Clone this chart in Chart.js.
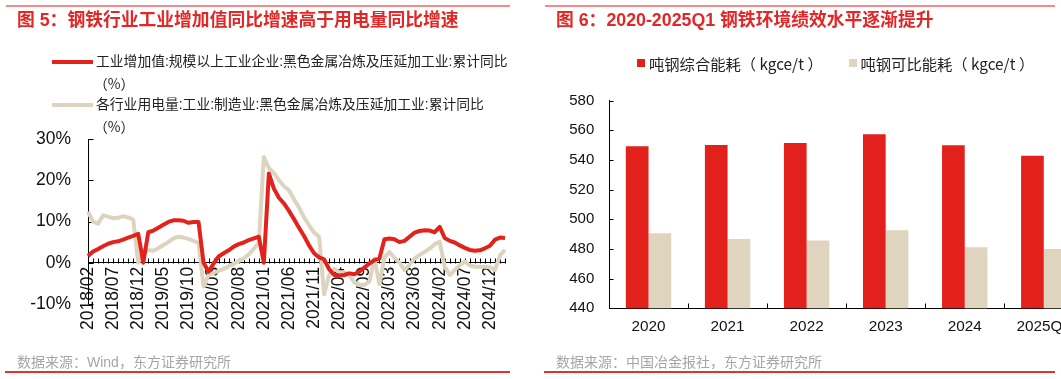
<!DOCTYPE html>
<html><head><meta charset="utf-8">
<script src="https://cdn.jsdelivr.net/npm/chart.js@4.4.1/dist/chart.umd.min.js"></script>
<style>
html,body{margin:0;padding:0;background:#fff;}
body{width:1061px;height:379px;overflow:hidden;position:relative;font-family:'Liberation Sans','Noto Sans CJK SC',sans-serif;}
.abs{position:absolute;white-space:pre;}
.cjk{font-family:'Noto Sans CJK SC','Liberation Sans',sans-serif;}
.title{font-size:17.8px;font-weight:bold;color:#E32626;line-height:20px;top:9.5px;}
.rule-top{position:absolute;height:2px;background:#F28C8C;top:5px;}
.rule-bot{position:absolute;height:1.5px;background:#E53030;top:371px;}
.src{font-size:14px;color:#A6A6A6;line-height:20px;top:351.7px;}
.leg{font-size:13.8px;color:#222;line-height:20px;}
.leg2{font-size:15.3px;color:#222;line-height:20px;top:52.7px;}
canvas{position:absolute;top:0;}
</style></head><body>
<canvas id="c1" width="530" height="379" style="left:0;width:530px;height:379px"></canvas>
<canvas id="c2" width="560" height="379" style="left:540px;width:560px;height:379px"></canvas>

<div class="rule-top" style="left:6px;width:504px"></div>
<div class="rule-top" style="left:545px;width:510px"></div>
<div class="abs title" style="left:17px">图 5：钢铁行业工业增加值同比增速高于用电量同比增速</div>
<div class="abs title" style="left:556px">图 6：2020-2025Q1 钢铁环境绩效水平逐渐提升</div>

<div class="abs" style="left:52px;top:60.3px;width:41px;height:4px;background:#E3231B"></div>
<div class="abs leg" style="left:96px;top:52.3px">工业增加值:规模以上工业企业:黑色金属冶炼及压延加工业:累计同比</div>
<div class="abs leg cjk" style="left:94px;top:72.7px">（%）</div>
<div class="abs" style="left:52px;top:103px;width:41px;height:4px;background:#DDD4BF"></div>
<div class="abs leg" style="left:96px;top:95px">各行业用电量:工业:制造业:黑色金属冶炼及压延加工业:累计同比</div>
<div class="abs leg cjk" style="left:94px;top:116px">（%）</div>

<div class="abs" style="left:637px;top:58.7px;width:8px;height:8px;background:#E2211C"></div>
<div class="abs leg2 cjk" style="left:649px">吨钢综合能耗（ kgce/t ）</div>
<div class="abs" style="left:849px;top:58.7px;width:8px;height:8px;background:#DFD5BE"></div>
<div class="abs leg2 cjk" style="left:860.5px">吨钢可比能耗（ kgce/t ）</div>

<div class="abs src" style="left:17px">数据来源：Wind，东方证券研究所</div>
<div class="abs src" style="left:556px">数据来源：中国冶金报社，东方证券研究所</div>
<div class="rule-bot" style="left:5px;width:505px"></div>
<div class="rule-bot" style="left:544px;width:511px"></div>

<script>
// ---- Figure 5 data (cumulative YoY, %) ----
const months = [
  '2018/02','2018/03','2018/04','2018/05','2018/06','2018/07','2018/08','2018/09','2018/10','2018/11','2018/12',
  '2019/01','2019/02','2019/03','2019/04','2019/05','2019/06','2019/07','2019/08','2019/09','2019/10','2019/11','2019/12',
  '2020/01','2020/02','2020/03','2020/04','2020/05','2020/06','2020/07','2020/08','2020/09','2020/10','2020/11','2020/12',
  '2021/01','2021/02','2021/03','2021/04','2021/05','2021/06','2021/07','2021/08','2021/09','2021/10','2021/11','2021/12',
  '2022/01','2022/02','2022/03','2022/04','2022/05','2022/06','2022/07','2022/08','2022/09','2022/10','2022/11','2022/12',
  '2023/02','2023/03','2023/04','2023/05','2023/06','2023/07','2023/08','2023/09','2023/10','2023/11','2023/12',
  '2024/02','2024/03','2024/04','2024/05','2024/06','2024/07','2024/08','2024/09','2024/10','2024/11','2024/12',
  '2025/02','2025/03','2025/04'
];
const valueAdded = [
  1.6, 2.7, 3.3, 4.0, 4.6, 5.0, 5.2, 5.6, 6.1, 6.5, 7.0,
  0, 7.4, 7.8, 8.5, 9.2, 9.9, 10.3, 10.3, 10.2, 9.7, 9.9, 9.9,
  0, -2.2, -0.2, 1.5, 2.3, 3.0, 3.9, 4.5, 4.9, 5.5, 5.9, 6.3,
  0, 21.7, 18.0, 15.8, 14.4, 12.6, 10.6, 8.5, 6.5, 4.2, 2.3, 1.3,
  0.8, -1.6, -3.0, -3.1, -3.0, -2.6, -2.8, -2.2, -1.2, -0.2, 0.6, 1.0,
  5.7, 5.9, 5.7, 5.0, 5.3, 6.3, 7.3, 7.7, 7.9, 7.8, 7.4,
  8.7, 6.0, 5.3, 4.9, 4.2, 3.6, 3.1, 2.9, 3.0, 3.5, 4.1,
  5.6, 6.1, 6.0
];
const powerUse = [
  12.4, 10.0, 9.5, 11.5, 11.2, 10.8, 10.9, 11.3, 11.0, 10.5, 0,
  3.1, 3.0, 2.9, 3.5, 4.3, 5.0, 5.9, 6.3, 6.1, 5.8, 5.3, 4.8,
  -5.8, -3.0, -2.5, -2.0, -1.5, -0.9, -0.3, 0.4, 1.0, 2.0, 3.4, 4.8,
  25.7, 23.0, 21.8, 20.1, 18.6, 17.6, 15.4, 13.4, 11.0, 9.1, 7.3, 6.3,
  -7.7, -3.0, -1.5, -2.3, -2.3, -3.0, -4.8, -5.4, -5.4, -4.6, 1.0, -5.2,
  1.3, 2.6, 1.2, 0.0, -1.8, -0.5, 1.0, 1.9, 2.6, 3.4, 4.5,
  5.1, -1.0, -3.0, -1.8, -0.6, 0.3, -0.7, -1.0, -1.0, -1.0, -1.1,
  -1.8, 1.8, 3.1
];
const yTicksLeft = {min: -10, max: 30, step: 10};

// ---- Figure 6 data (kgce/t) ----
const years = ['2020', '2021', '2022', '2023', '2024', '2025Q1'];
const comprehensive = [549.2, 550.1, 551.5, 557.3, 549.9, 542.9];
const comparable = [490.6, 486.7, 485.8, 492.6, 481.1, 480.0];
const yTicksRight = {min: 440, max: 580, step: 20};

const RED = '#E3231B', BEIGE = '#DDD4BF';
const RED2 = '#E2211C', BEIGE2 = '#DFD5BE';

Chart.defaults.font.family = "'Liberation Sans', Arial, sans-serif";

const innerTicks = {
  id: 'innerTicks',
  beforeDatasetsDraw(chart, args, o) {
    const {ctx} = chart; const x = chart.scales.x, y = chart.scales.y;
    ctx.save(); ctx.strokeStyle = '#000'; ctx.lineWidth = 1; ctx.beginPath();
    const ax = Math.round(chart.chartArea.left) + 0.5;
    y.ticks.forEach(t => {
      const py = Math.round(y.getPixelForValue(t.value)) + 0.5;
      ctx.moveTo(ax, py); ctx.lineTo(ax + o.yLen, py);
    });
    const base = Math.round(y.getPixelForValue(o.base)) + 0.5;
    const n = x.getLabels().length;
    for (let i = 1; i < n; i++) {
      const px = Math.round(x.getPixelForValue(o.between ? i - 0.5 : i)) + 0.5;
      ctx.moveTo(px, base); ctx.lineTo(px, base - o.xLen);
    }
    ctx.stroke(); ctx.restore();
  }
};

new Chart(document.getElementById('c1'), {
  type: 'line',
  data: {
    labels: months,
    datasets: [
      {label: '工业增加值:规模以上工业企业:黑色金属冶炼及压延加工业:累计同比（%）', data: valueAdded,
       borderColor: RED, backgroundColor: RED, borderWidth: 4, pointRadius: 0, tension: 0, borderJoinStyle: 'round', fill: false},
      {label: '各行业用电量:工业:制造业:黑色金属冶炼及压延加工业:累计同比（%）', data: powerUse,
       borderColor: BEIGE, backgroundColor: BEIGE, borderWidth: 4, pointRadius: 0, tension: 0, borderJoinStyle: 'round', fill: false}
    ]
  },
  options: {
    responsive: false, animation: false, devicePixelRatio: 1,
    layout: {padding: {left: 0, top: 139.3, right: 15.4, bottom: 75.2}},
    plugins: {legend: {display: false}, tooltip: {enabled: false},
      innerTicks: {yLen: 5, xLen: 5, base: 0, between: false}},
    scales: {
      x: {
        type: 'category', position: {y: 0}, offset: false,
        grid: {drawOnChartArea: false, drawTicks: false},
        border: {display: true, color: '#000', width: 1},
        ticks: {autoSkip: false, minRotation: 90, maxRotation: 90, padding: 4, color: '#111',
          font: {size: 17.5},
          callback: function (v, i) { return i % 5 === 0 ? this.getLabelForValue(v) : ''; }}
      },
      y: {
        position: 'left', min: yTicksLeft.min, max: yTicksLeft.max,
        grid: {drawOnChartArea: false, drawTicks: false},
        border: {display: true, color: '#000', width: 1},
        ticks: {stepSize: yTicksLeft.step, padding: 17, color: '#111', font: {size: 17.5},
          callback: v => v + '%'},
        afterFit(s) { s.width = 88; }
      }
    }
  },
  plugins: [innerTicks]
});

new Chart(document.getElementById('c2'), {
  type: 'bar',
  data: {
    labels: years,
    datasets: [
      {label: '吨钢综合能耗（kgce/t）', data: comprehensive, backgroundColor: RED2, barPercentage: 1, categoryPercentage: 0.574},
      {label: '吨钢可比能耗（kgce/t）', data: comparable, backgroundColor: BEIGE2, barPercentage: 1, categoryPercentage: 0.574}
    ]
  },
  options: {
    responsive: false, animation: false, devicePixelRatio: 1,
    layout: {padding: {left: 0, top: 100.7, right: 16.7, bottom: 30.7}},
    plugins: {legend: {display: false}, tooltip: {enabled: false},
      innerTicks: {yLen: 4, xLen: 5, base: yTicksRight.min, between: true}},
    scales: {
      x: {
        grid: {drawOnChartArea: false, drawTicks: false},
        border: {display: true, color: '#000', width: 1},
        ticks: {padding: 9, color: '#111', font: {size: 15.3}},
        afterFit(s) { s.height = 40; s.paddingLeft = 0; s.paddingRight = 0; }
      },
      y: {
        min: yTicksRight.min, max: yTicksRight.max,
        grid: {drawOnChartArea: false, drawTicks: false},
        border: {display: true, color: '#000', width: 1},
        ticks: {stepSize: yTicksRight.step, padding: 14.7, color: '#111', font: {size: 15}},
        afterFit(s) { s.width = 69; }
      }
    }
  },
  plugins: [innerTicks]
});
</script>
</body></html>
